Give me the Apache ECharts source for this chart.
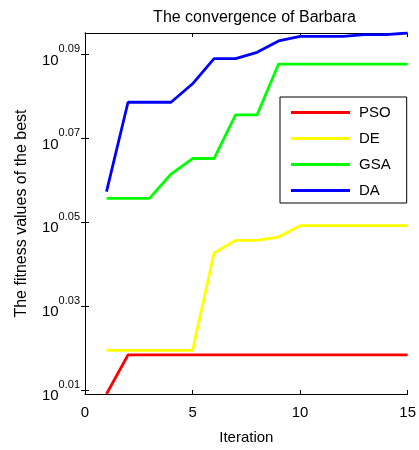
<!DOCTYPE html>
<html>
<head>
<meta charset="utf-8">
<script src="https://cdn.jsdelivr.net/npm/echarts@6/dist/echarts.min.js"></script>
<style>
    html, body { margin: 0; padding: 0; background: #fff; }
    #chart { width: 419px; height: 450px; }
</style>
</head>
<body>
<div id="chart"></div>
<script type="text/javascript">
    // iterations 1..15, values are the exponent of 10 (log-scale axis)
    var iterations = [1, 2, 3, 4, 5, 6, 7, 8, 9, 10, 11, 12, 13, 14, 15];
    var psoValues = [0.0091, 0.0184, 0.0184, 0.0184, 0.0184, 0.0184, 0.0184, 0.0184, 0.0184, 0.0184, 0.0184, 0.0184, 0.0184, 0.0184, 0.0184];
    var deValues = [0.0195, 0.0195, 0.0195, 0.0195, 0.0195, 0.0427, 0.0457, 0.0457, 0.0465, 0.0492, 0.0492, 0.0492, 0.0492, 0.0492, 0.0492];
    var gsaValues = [0.0557, 0.0557, 0.0557, 0.0615, 0.0652, 0.0652, 0.0756, 0.0756, 0.0877, 0.0877, 0.0877, 0.0877, 0.0877, 0.0877, 0.0877];
    var daValues = [0.0573, 0.0786, 0.0786, 0.0786, 0.0830, 0.0890, 0.0890, 0.0905, 0.0932, 0.0943, 0.0943, 0.0943, 0.0947, 0.0947, 0.0951];
    var seriesNames = ['PSO', 'DE', 'GSA', 'DA'];
    var seriesColors = ['#ff0000', '#ffff00', '#00ff00', '#0000ff'];
    var yTickExps = [0.01, 0.03, 0.05, 0.07, 0.09];
    var xTicks = [0, 5, 10, 15];

    var font = "'Liberation Sans', Arial, sans-serif";
    var chart = echarts.init(document.getElementById('chart'));

    function pairs(vals) {
        return vals.map(function (v, i) { return [iterations[i], v]; });
    }

    var allValues = [psoValues, deValues, gsaValues, daValues];
    var series = seriesNames.map(function (name, i) {
        return {
            name: name,
            type: 'line',
            data: pairs(allValues[i]),
            showSymbol: false,
            symbol: 'none',
            lineStyle: {color: seriesColors[i], width: 2.8},
            itemStyle: {color: seriesColors[i]},
            animation: false
        };
    });

    var tickInside = {show: true, inside: true, length: 4, lineStyle: {color: '#000', width: 1}};

    chart.setOption({
        animation: false,
        title: {
            text: 'The convergence of Barbara',
            left: 249.5,
            textAlign: 'center',
            top: 5,
            textStyle: {fontFamily: font, fontSize: 16, fontWeight: 'normal', color: '#000'}
        },
        grid: {left: 85, right: 5, top: 33, bottom: 48},
        legend: {
            orient: 'vertical',
            left: 280,
            top: 97,
            data: seriesNames,
            icon: 'path://M0,0 L60,0 L60,3 L0,3 Z',
            itemWidth: 59,
            itemHeight: 3,
            itemGap: 11,
            padding: [8, 16, 5, 11],
            borderColor: '#000',
            borderWidth: 1,
            backgroundColor: '#fff',
            textStyle: {fontFamily: font, fontSize: 15, color: '#000', lineHeight: 14, padding: [0, 0, 0, 4]}
        },
        xAxis: [{
            type: 'value',
            min: 0, max: 15, interval: 5,
            name: 'Iteration',
            nameLocation: 'middle',
            nameGap: 36,
            nameTextStyle: {fontFamily: font, fontSize: 15, color: '#000'},
            axisLine: {lineStyle: {color: '#000', width: 1}},
            axisTick: tickInside,
            axisLabel: {fontFamily: font, fontSize: 15, color: '#000', margin: 11,
                customValues: xTicks},
            splitLine: {show: false}
        }, {
            type: 'value',
            position: 'top',
            min: 0, max: 15, interval: 5,
            axisLine: {lineStyle: {color: '#000', width: 1}},
            axisTick: tickInside,
            axisLabel: {show: false},
            splitLine: {show: false}
        }],
        yAxis: [{
            type: 'value',
            min: 0.0091, max: 0.0951,
            name: 'The fitness values of the best',
            nameLocation: 'middle',
            nameGap: 55,
            nameTextStyle: {fontFamily: font, fontSize: 16, color: '#000'},
            axisLine: {show: true, lineStyle: {color: '#000', width: 1}},
            axisTick: Object.assign({customValues: yTickExps}, tickInside),
            axisLabel: {
                customValues: yTickExps,
                margin: 5,
                padding: [12, 0, 0, 0],
                formatter: function (v) {
                    return '{b|10}{s|' + v.toFixed(2) + '}';
                },
                rich: {
                    b: {fontFamily: font, fontSize: 15, color: '#000', verticalAlign: 'middle'},
                    s: {fontFamily: font, fontSize: 11, color: '#000', verticalAlign: 'middle', padding: [0, 0, 22, 0]}
                }
            },
            splitLine: {show: false}
        }, {
            type: 'value',
            position: 'right',
            min: 0.0091, max: 0.0951,
            axisLine: {show: true, lineStyle: {color: '#000', width: 1}},
            axisTick: Object.assign({customValues: yTickExps}, tickInside),
            axisLabel: {show: false},
            splitLine: {show: false}
        }],
        series: series
    });
</script>
</body>
</html>
